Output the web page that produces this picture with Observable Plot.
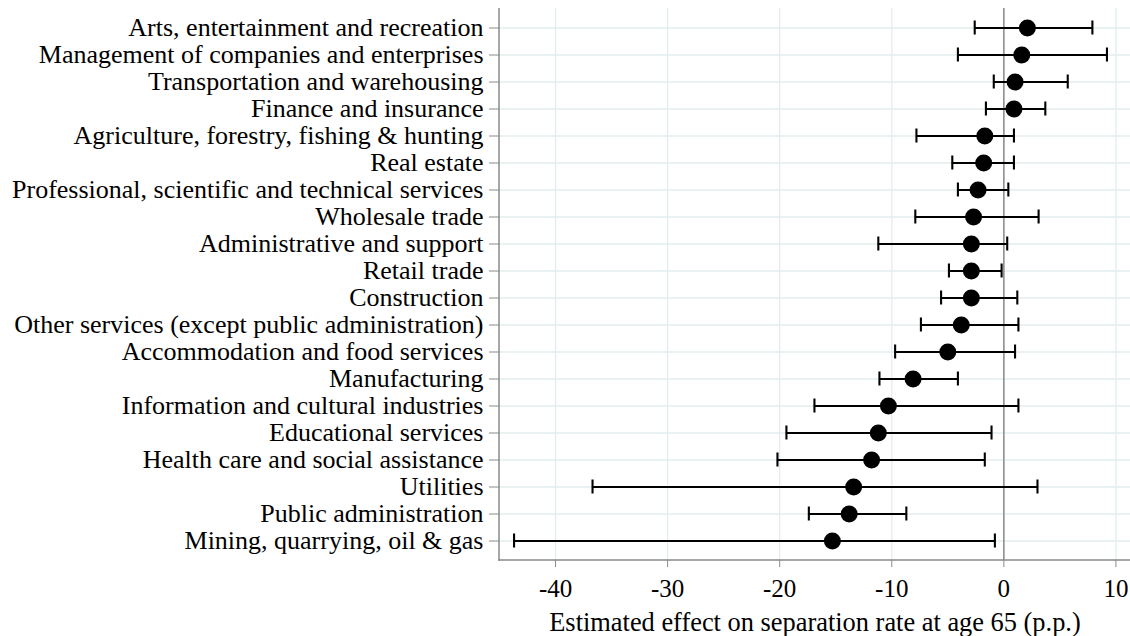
<!DOCTYPE html>
<html>
<head>
<meta charset="utf-8">
<script src="https://cdn.jsdelivr.net/npm/d3@7"></script>
<script src="https://cdn.jsdelivr.net/npm/@observablehq/plot@0.6"></script>
<style>
  html, body { margin: 0; padding: 0; background: #fff; }
  #chart svg { display: block; }
  #chart svg, #chart svg text { font-family: "Liberation Serif", serif !important; }
</style>
</head>
<body>
<div id="chart"></div>
<script>
// ---- data ----
const categories = [
  "Arts, entertainment and recreation",
  "Management of companies and enterprises",
  "Transportation and warehousing",
  "Finance and insurance",
  "Agriculture, forestry, fishing & hunting",
  "Real estate",
  "Professional, scientific and technical services",
  "Wholesale trade",
  "Administrative and support",
  "Retail trade",
  "Construction",
  "Other services (except public administration)",
  "Accommodation and food services",
  "Manufacturing",
  "Information and cultural industries",
  "Educational services",
  "Health care and social assistance",
  "Utilities",
  "Public administration",
  "Mining, quarrying, oil & gas"
];
const estimates = [2.1, 1.6, 1.0, 0.9, -1.7, -1.8, -2.3, -2.7, -2.9, -2.9, -2.9, -3.8, -5.0, -8.1, -10.3, -11.2, -11.8, -13.4, -13.8, -15.3];
const lower     = [-2.6, -4.1, -0.9, -1.6, -7.8, -4.6, -4.1, -7.9, -11.2, -4.9, -5.6, -7.4, -9.7, -11.1, -16.9, -19.4, -20.2, -36.7, -17.4, -43.7];
const upper     = [7.9, 9.2, 5.7, 3.7, 0.9, 0.9, 0.4, 3.1, 0.3, -0.2, 1.2, 1.3, 1.0, -4.1, 1.3, -1.1, -1.7, 3.0, -8.7, -0.8];
const xTicks = [-40, -30, -20, -10, 0, 10];
const xDomain = [-45, 11.3];
const xLabel = "Estimated effect on separation rate at age 65 (p.p.)";

const rows = categories.map((c, i) => ({category: c, est: estimates[i], lo: lower[i], hi: upper[i]}));

const GRID = "#e3edef";
const AXIS = "#8a8a8a";

const axisLines = (index, scales, values, dims) => {
  const g = d3.create("svg:g").attr("stroke", AXIS).attr("stroke-width", 1.5);
  const x0 = dims.marginLeft, y0 = dims.marginTop, y1 = dims.height - dims.marginBottom, x1 = dims.width - dims.marginRight;
  g.append("line").attr("x1", x0).attr("x2", x0).attr("y1", y0).attr("y2", y1 + 0.75);
  g.append("line").attr("x1", x0 - 0.75).attr("x2", x1).attr("y1", y1).attr("y2", y1);
  return g.node();
};

const chart = Plot.plot({
  width: 1130,
  height: 636,
  marginLeft: 499,
  marginRight: 0,
  marginTop: 8,
  marginBottom: 76,
  style: {background: "#fff", color: "#000"},
  x: {domain: xDomain, ticks: xTicks},
  y: {type: "band", domain: categories, paddingInner: 0, paddingOuter: 0.03},
  marks: [
    Plot.gridX(xTicks, {stroke: GRID, strokeOpacity: 1, strokeWidth: 1.3}),
    Plot.gridY(categories, {stroke: GRID, strokeOpacity: 1, strokeWidth: 1.3}),
    Plot.ruleX([0], {stroke: AXIS, strokeWidth: 1.5}),
    Plot.ruleY(rows, {y: "category", x1: "lo", x2: "hi", stroke: "#000", strokeWidth: 2.1}),
    Plot.tickX(rows, {x: "lo", y: "category", stroke: "#000", strokeWidth: 2.1, insetTop: 6.5, insetBottom: 6.5}),
    Plot.tickX(rows, {x: "hi", y: "category", stroke: "#000", strokeWidth: 2.1, insetTop: 6.5, insetBottom: 6.5}),
    Plot.dot(rows, {x: "est", y: "category", r: 8.5, fill: "#000", stroke: "none"}),
    axisLines,
    Plot.axisX(xTicks, {tickSize: 7, tickPadding: 12, fontSize: 25, stroke: AXIS, fill: "#000", label: null, tickFormat: d => String(d)}),
    Plot.axisY({tickSize: 10, tickPadding: 6, fontSize: 26, stroke: AXIS, fill: "#000", label: null}),
    Plot.text([xLabel], {frameAnchor: "bottom", dy: 62, fontSize: 26.4, fill: "#000", lineAnchor: "middle", textAnchor: "middle"})
  ]
});

document.getElementById("chart").appendChild(chart);
</script>
</body>
</html>
